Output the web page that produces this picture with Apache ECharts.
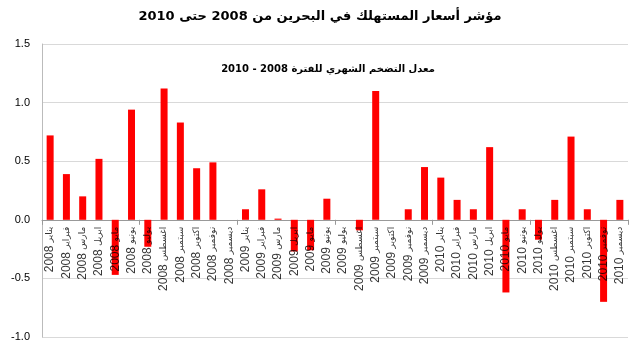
<!DOCTYPE html>
<html>
<head>
<meta charset="utf-8">
<script src="https://cdn.jsdelivr.net/npm/echarts@6/dist/echarts.min.js"></script>
<style>
html,body{margin:0;padding:0;background:#fff;}
#c{width:640px;height:351px;}
</style>
</head>
<body>
<div id="c"></div>
<script>
const months = ['يناير','فبراير','مارس','ابريل','مايو','يونيو','يوليو','اغسطس','سبتمبر','اكتوبر','نوفمبر','ديسمبر'];
const years = ['2008','2009','2010'];
const categories = [];
years.forEach(y => months.forEach(m => categories.push(m + ' ' + y)));
const values = [
  0.72, 0.39, 0.20, 0.52, -0.47, 0.94, -0.23, 1.12, 0.83, 0.44, 0.49, 0,
  0.09, 0.26, 0.01, -0.27, -0.26, 0.18, 0, -0.09, 1.10, 0, 0.09, 0.45,
  0.36, 0.17, 0.09, 0.62, -0.62, 0.09, -0.17, 0.17, 0.71, 0.09, -0.70, 0.17
];
const yTicks = [-1.0, -0.5, 0.0, 0.5, 1.0, 1.5];
const titleText = 'مؤشر أسعار المستهلك في البحرين من 2008 حتى 2010';
const subtitleText = 'معدل التضخم الشهري للفترة 2008 - 2010';

const chart = echarts.init(document.getElementById('c'));
chart.setOption({
  animation: false,
  backgroundColor: '#fff',
  title: [
    { text: titleText, left: 'center', top: 5,
      textStyle: { fontFamily: 'DejaVu Sans', fontSize: 13, fontWeight: 'bold', color: '#000' } },
    { text: subtitleText, left: 323, top: 59, textAlign: 'center',
      textStyle: { fontFamily: 'DejaVu Sans', fontSize: 10, fontWeight: 'bold', color: '#000' } }
  ],
  grid: { left: 42, right: 12, top: 44, bottom: 14, outerBoundsMode: 'none' },
  xAxis: {
    type: 'category',
    data: categories,
    axisLine: { onZero: true, lineStyle: { color: '#999' } },
    axisTick: { show: true, alignWithLabel: false, length: 5, lineStyle: { color: '#999' } },
    axisLabel: { show: false }
  },
  yAxis: {
    type: 'value',
    min: yTicks[0], max: yTicks[yTicks.length - 1], interval: 0.5,
    axisLine: { show: true, lineStyle: { color: '#bbb' } },
    axisTick: { show: false },
    splitLine: { lineStyle: { color: '#d9d9d9' } },
    axisLabel: { formatter: v => v.toFixed(1), fontSize: 11, color: '#000', margin: 12,
      fontFamily: 'Liberation Sans' }
  },
  series: [{
    type: 'bar',
    data: values,
    barWidth: 7,
    itemStyle: { color: '#ff0000' }
  }, {
    type: 'scatter',
    silent: true,
    symbolSize: 0,
    z: 10,
    data: categories.map(c => [c, 0]),
    label: {
      show: true,
      position: 'bottom',
      distance: 7,
      rotate: 90,
      align: 'right',
      verticalAlign: 'middle',
      formatter: p => {
        const parts = p.data[0].split(' ');
        return '{y|' + parts[1] + '} {m|' + parts[0] + '}';
      },
      rich: {
        y: { fontFamily: 'Liberation Sans', fontSize: 12, color: '#000' },
        m: { fontFamily: 'DejaVu Sans', fontSize: 9, color: '#000' }
      }
    }
  }]
});
</script>
</body>
</html>
